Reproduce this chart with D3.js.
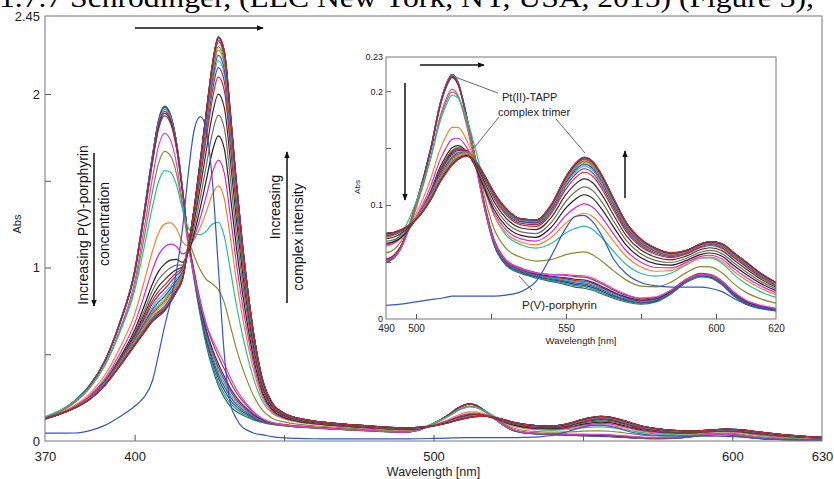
<!doctype html>
<html>
<head>
<meta charset="utf-8">
<script src="https://d3js.org/d3.v7.min.js"></script>
<style>
  body { margin: 0; background: #fff; }
  svg { display: block; font-family: "Liberation Sans", Arial, sans-serif; }
  .tick line { stroke: #555; }
</style>
</head>
<body>
<script>
// wavelengths (nm) shared by the read spectra
var wl = [370, 375, 380, 385, 390, 395, 400, 403, 406, 408, 410, 412, 414, 416, 418, 420, 422, 424, 426, 428,
          430, 432, 434, 436, 438, 440, 443, 446, 450, 455, 460, 470, 480, 490, 495, 500, 505, 508, 510, 512,
          514, 517, 520, 523, 526, 530, 535, 540, 545, 550, 553, 556, 559, 562, 566, 570, 575, 580, 585, 590,
          595, 598, 602, 606, 610, 615, 620, 625, 630];

// starting spectrum (Soret at 410, Q at 512)
var specStart = [0.13, 0.17, 0.23, 0.32, 0.46, 0.68, 0.98, 1.30, 1.65, 1.85, 1.93, 1.88, 1.72, 1.45, 1.14, 0.92, 0.72, 0.55, 0.42, 0.32,
                 0.25, 0.20, 0.17, 0.15, 0.135, 0.12, 0.105, 0.095, 0.088, 0.08, 0.075, 0.065, 0.057, 0.05, 0.062, 0.10, 0.15, 0.188, 0.205, 0.214,
                 0.207, 0.175, 0.135, 0.095, 0.065, 0.047, 0.04, 0.036, 0.033, 0.03, 0.028, 0.027, 0.025, 0.022, 0.018, 0.015, 0.013, 0.015, 0.022, 0.032,
                 0.037, 0.036, 0.03, 0.02, 0.013, 0.009, 0.007, 0.006, 0.005];

// final complex spectrum (Soret at 428)
var specEnd = [0.13, 0.155, 0.19, 0.24, 0.32, 0.43, 0.55, 0.62, 0.69, 0.72, 0.75, 0.80, 0.86, 0.93, 1.12, 1.35, 1.62, 1.9, 2.17, 2.33,
               2.25, 1.9, 1.5, 1.15, 0.85, 0.6, 0.34, 0.22, 0.16, 0.13, 0.115, 0.097, 0.085, 0.075, 0.078, 0.087, 0.105, 0.12, 0.128, 0.135,
               0.14, 0.143, 0.137, 0.125, 0.111, 0.097, 0.088, 0.087, 0.10, 0.125, 0.136, 0.142, 0.138, 0.126, 0.105, 0.085, 0.07, 0.062, 0.058, 0.06,
               0.066, 0.068, 0.066, 0.058, 0.05, 0.04, 0.032, 0.026, 0.022];

// P(V)-porphyrin alone
var specPV = [0.045, 0.045, 0.046, 0.06, 0.09, 0.14, 0.2, 0.25, 0.35, 0.5, 0.66, 0.8, 0.98, 1.22, 1.55, 1.8, 1.87, 1.79, 1.5, 1.0,
              0.5, 0.22, 0.13, 0.08, 0.06, 0.045, 0.035, 0.025, 0.018, 0.015, 0.013, 0.012, 0.012, 0.012, 0.013, 0.015, 0.017, 0.018, 0.019, 0.02,
              0.02, 0.02, 0.02, 0.02, 0.02, 0.021, 0.024, 0.033, 0.055, 0.08, 0.09, 0.091, 0.085, 0.073, 0.052, 0.04, 0.032, 0.029, 0.028, 0.028,
              0.028, 0.027, 0.024, 0.018, 0.013, 0.01, 0.008, 0.007, 0.006];

// titration steps: share of start / end spectrum in each recorded curve
var shareStart = [1.00, 0.995, 0.99, 0.985, 0.975, 0.965, 0.955, 0.94, 0.88, 0.76, 0.631, 0.425, 0.327, 0.248, 0.20,
                  0.156, 0.122, 0.10, 0.08, 0.065, 0.05, 0.04, 0.03, 0.02, 0.015, 0.01, 0.005, 0.0, 0.0];
var shareEnd   = [0.00, 0.01, 0.02, 0.03, 0.04, 0.05, 0.06, 0.08, 0.10, 0.27, 0.454, 0.573, 0.65, 0.721, 0.779,
                  0.837, 0.884, 0.91, 0.93, 0.945, 0.96, 0.97, 0.98, 0.985, 0.99, 0.995, 0.998, 1.0, 1.0];
var stepColors = ["#2e6b3a", "#1f9e8a", "#2040c0", "#505050", "#20b0d0", "#d02020", "#2030a0", "#b03030", "#e040d0", "#8a8a2a",
                  "#20c0a0", "#ff7f20", "#e020e0", "#202020", "#707050", "#303030", "#e02020", "#a02060", "#20c0e0", "#2040d0",
                  "#c08020", "#20a040", "#ff8030", "#e03030", "#8040a0", "#20b0b0", "#404040", "#1a237e", "#c62828"];

var mainTicksX = [400, 450, 500, 550, 600];
var mainLabelsX = [370, 400, 500, 600, 630];
var mainTicksY = [0.5, 1, 1.5, 2];
var mainLabelsY = [0, 1, 2, 2.45];
var insetTicksX = [500, 525, 550, 575, 600];
var insetLabelsX = [490, 500, 550, 600, 620];
var insetTicksY = [0.05, 0.1, 0.15, 0.2];
var insetLabelsY = [0, 0.1, 0.2, 0.23];

var W = 834, H = 479;
var svg = d3.select("body").append("svg").attr("width", W).attr("height", H);

// caption line from the page above, cut off at the top
svg.append("text")
    .attr("x", -1).attr("y", 7)
    .attr("textLength", 815)
    .attr("lengthAdjust", "spacingAndGlyphs")
    .style("font-family", "'Liberation Serif', 'Times New Roman', serif")
    .style("font-size", "27px")
    .text("1.7.7 Schrodinger, (LLC New York, NY, USA, 2015) (Figure 3),");

var curves = shareStart.map(function(a, i) {
    return {
        color: stepColors[i],
        values: wl.map(function(w, j) { return [w, a * specStart[j] + shareEnd[i] * specEnd[j]]; })
    };
});
var pvCurve = { color: "#2f55d4", values: wl.map(function(w, j) { return [w, specPV[j]]; }) };

var defs = svg.append("defs");
defs.append("marker")
    .attr("id", "arrow")
    .attr("viewBox", "0 0 10 10")
    .attr("refX", 9).attr("refY", 5)
    .attr("markerWidth", 7).attr("markerHeight", 7)
    .attr("markerUnits", "userSpaceOnUse")
    .attr("orient", "auto")
    .append("path").attr("d", "M0,1 L10,5 L0,9 Z").attr("fill", "#111");

function drawPanel(g, x, y, opt) {
    var r = { x0: x.range()[0], x1: x.range()[1], y0: y.range()[1], y1: y.range()[0] };
    g.append("rect")
        .attr("x", r.x0).attr("y", r.y0)
        .attr("width", r.x1 - r.x0).attr("height", r.y1 - r.y0)
        .attr("fill", "#fff");

    var clipId = "clip" + opt.id;
    defs.append("clipPath").attr("id", clipId)
        .append("rect")
        .attr("x", r.x0).attr("y", r.y0)
        .attr("width", r.x1 - r.x0).attr("height", r.y1 - r.y0);

    var line = d3.line()
        .x(function(d) { return x(d[0]); })
        .y(function(d) { return y(d[1]); })
        .curve(d3.curveMonotoneX);

    var plot = g.append("g").attr("clip-path", "url(#" + clipId + ")");
    plot.selectAll("path.step")
        .data(curves)
        .enter()
        .append("path")
            .attr("class", "step")
            .attr("d", function(d) { return line(d.values); })
            .attr("fill", "none")
            .attr("stroke", function(d) { return d.color; })
            .attr("stroke-width", opt.lw);
    plot.append("path")
        .attr("d", line(pvCurve.values))
        .attr("fill", "none")
        .attr("stroke", pvCurve.color)
        .attr("stroke-width", opt.lw);

    // inward tick marks
    g.append("g")
        .attr("transform", "translate(0," + r.y1 + ")")
        .call(d3.axisBottom(x).tickValues(opt.ticksX).tickSize(-opt.tick).tickFormat(""))
        .call(function(s) { s.select(".domain").remove(); });
    g.append("g")
        .attr("transform", "translate(" + r.x0 + ",0)")
        .call(d3.axisLeft(y).tickValues(opt.ticksY).tickSize(-opt.tick).tickFormat(""))
        .call(function(s) { s.select(".domain").remove(); });

    // labels
    g.append("g")
        .attr("transform", "translate(0," + r.y1 + ")")
        .call(d3.axisBottom(x).tickValues(opt.labelsX).tickSize(0).tickPadding(opt.padX).tickFormat(d3.format("d")))
        .call(function(s) {
            s.select(".domain").remove();
            s.selectAll("text").style("font-size", opt.fs + "px").attr("fill", "#222");
        });
    g.append("g")
        .attr("transform", "translate(" + r.x0 + ",0)")
        .call(d3.axisLeft(y).tickValues(opt.labelsY).tickSize(0).tickPadding(opt.padY).tickFormat(function(d) { return String(d); }))
        .call(function(s) {
            s.select(".domain").remove();
            s.selectAll("text").style("font-size", opt.fsY + "px").attr("fill", "#222");
        });

    g.append("rect")
        .attr("x", r.x0).attr("y", r.y0)
        .attr("width", r.x1 - r.x0).attr("height", r.y1 - r.y0)
        .attr("fill", "none").attr("stroke", "#777").attr("stroke-width", 1);

    g.append("text")
        .attr("x", (r.x0 + r.x1) / 2).attr("y", r.y1 + opt.titleY)
        .attr("text-anchor", "middle")
        .style("font-size", opt.fsT + "px").attr("fill", "#222")
        .text("Wavelength [nm]");
    g.append("text")
        .attr("transform", "translate(" + opt.absX + "," + opt.absY + ") rotate(-90)")
        .attr("text-anchor", "middle")
        .attr("dominant-baseline", "central")
        .style("font-size", opt.fsA + "px").attr("fill", "#222")
        .text("Abs");
}

var xMain = d3.scaleLinear().domain([370, 630]).range([45, 822]);
var yMain = d3.scaleLinear().domain([0, 2.45]).range([441, 16]);
drawPanel(svg.append("g"), xMain, yMain, {
    id: "main", lw: 1.2, tick: 6, ticksX: mainTicksX, ticksY: mainTicksY,
    labelsX: mainLabelsX, labelsY: mainLabelsY, padX: 11, padY: 5,
    fs: 13, fsY: 13, fsT: 12.5, titleY: 35, absX: 17, absY: 224, fsA: 11
});

// annotations on the main plot
function arrow(g, x1, y1, x2, y2) {
    g.append("line")
        .attr("x1", x1).attr("y1", y1).attr("x2", x2).attr("y2", y2)
        .attr("stroke", "#111").attr("stroke-width", 1.5)
        .attr("marker-end", "url(#arrow)");
}
function vtext(g, cx, cy, size, str) {
    g.append("text")
        .attr("transform", "translate(" + cx + "," + cy + ") rotate(-90)")
        .attr("text-anchor", "middle")
        .attr("dominant-baseline", "central")
        .style("font-size", size + "px").attr("fill", "#111")
        .text(str);
}
var notes = svg.append("g");
arrow(notes, 135, 28, 263, 28);
vtext(notes, 83, 225, 14, "Increasing P(V)-porphyrin");
vtext(notes, 104, 224, 14, "concentration");
arrow(notes, 94, 153, 94, 306);
vtext(notes, 275, 207, 14, "Increasing");
vtext(notes, 298, 237, 14, "complex intensity");
arrow(notes, 287, 303, 287, 152);

// inset, zoom on the Q bands
var xIn = d3.scaleLinear().domain([490, 620]).range([386, 776]);
var yIn = d3.scaleLinear().domain([0, 0.23]).range([319, 57]);
var inset = svg.append("g");
drawPanel(inset, xIn, yIn, {
    id: "inset", lw: 1.2, tick: 5, ticksX: insetTicksX, ticksY: insetTicksY,
    labelsX: insetLabelsX, labelsY: insetLabelsY, padX: 6, padY: 3,
    fs: 10, fsY: 9, fsT: 9.5, titleY: 25, absX: 357, absY: 187, fsA: 8
});

arrow(inset, 420, 65, 484, 65);
arrow(inset, 405, 83, 405, 200);
arrow(inset, 625, 198, 625, 151);

var leaders = [[455, 77, 498, 93], [499, 117, 474, 148], [556, 119, 585, 153], [519, 276, 532, 290]];
inset.selectAll("line.leader")
    .data(leaders)
    .enter()
    .append("line")
        .attr("class", "leader")
        .attr("x1", function(d) { return d[0]; }).attr("y1", function(d) { return d[1]; })
        .attr("x2", function(d) { return d[2]; }).attr("y2", function(d) { return d[3]; })
        .attr("stroke", "#666").attr("stroke-width", 1);

inset.append("text").attr("x", 502).attr("y", 101).style("font-size", "11px").attr("fill", "#222").text("Pt(II)-TAPP");
inset.append("text").attr("x", 498).attr("y", 116).style("font-size", "11px").attr("fill", "#222").text("complex trimer");
inset.append("text").attr("x", 522).attr("y", 309).style("font-size", "11.5px").attr("fill", "#222").text("P(V)-porphyrin");
</script>
</body>
</html>
